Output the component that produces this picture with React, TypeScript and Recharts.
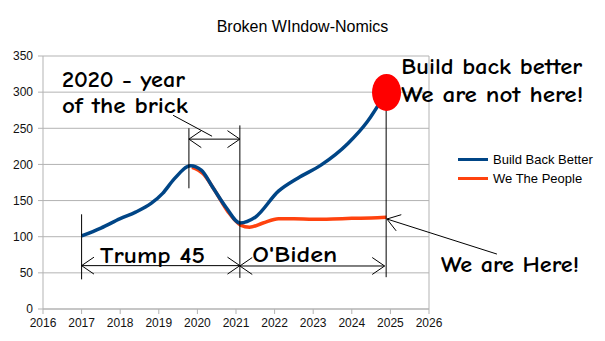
import { CartesianGrid, Line, LineChart, ReferenceDot, ReferenceLine, XAxis, YAxis } from 'recharts';

const yearTicks = [2016, 2017, 2018, 2019, 2020, 2021, 2022, 2023, 2024, 2025, 2026];
const valueTicks = [0, 50, 100, 150, 200, 250, 300, 350];

const bbbYears = [2017, 2017.5, 2018, 2018.4, 2018.8, 2019.1, 2019.4, 2019.82, 2020.1, 2020.4, 2020.75, 2021.1, 2021.5, 2022.1, 2022.6, 2023.2, 2023.9, 2024.4, 2024.88];
const bbbValues = [101, 112, 125, 134, 146, 160, 180, 198, 192, 168, 140, 119, 127, 163, 181, 199, 229, 259, 299];

const wtpYears = [2019.86, 2020.15, 2020.45, 2020.8, 2021.12, 2021.35, 2021.7, 2022.1, 2022.5, 2023, 2023.5, 2024, 2024.5, 2024.9];
const wtpValues = [196, 187, 164, 134, 116, 113, 119, 125, 125, 124, 124.5, 125.5, 126, 127];

const bbbData = bbbYears.map((year, i) => ({ year, value: bbbValues[i] }));
const wtpData = wtpYears.map((year, i) => ({ year, value: wtpValues[i] }));

// hand-drawn notes, placed in chart units
const notes = [
	{ year: 2016.49, value: 307, text: '2020 - year', width: 123 },
	{ year: 2016.49, value: 271, text: 'of the brick', width: 126 },
	{ year: 2025.28, value: 325, text: 'Build back better', width: 181 },
	{ year: 2025.28, value: 287, text: 'We are not here!', width: 182 },
	{ year: 2017.48, value: 63, text: 'Trump 45', width: 105 },
	{ year: 2021.42, value: 65, text: "O'Biden", width: 85 },
	{ year: 2026.31, value: 51, text: 'We are Here!', width: 138 },
];

type Pt = { x: number; y: number };
const strokes: { from: Pt; to: Pt; heads: 0 | 1 | 2 }[] = [
	{ from: { x: 2017, y: 131 }, to: { x: 2017, y: 41 }, heads: 0 },
	{ from: { x: 2019.78, y: 250 }, to: { x: 2019.78, y: 167 }, heads: 0 },
	{ from: { x: 2021.1, y: 254 }, to: { x: 2021.1, y: 43 }, heads: 0 },
	{ from: { x: 2024.89, y: 300 }, to: { x: 2024.89, y: 44 }, heads: 0 },
	{ from: { x: 2019.37, y: 268 }, to: { x: 2020.38, y: 239 }, heads: 0 },
	{ from: { x: 2019.78, y: 235 }, to: { x: 2021.1, y: 235 }, heads: 2 },
	{ from: { x: 2017, y: 60 }, to: { x: 2021.1, y: 60 }, heads: 2 },
	{ from: { x: 2021.1, y: 59.5 }, to: { x: 2024.85, y: 59.5 }, heads: 2 },
	{ from: { x: 2027.76, y: 76 }, to: { x: 2024.91, y: 124.5 }, heads: 1 },
];

const handFont = '"Comic Sans MS", "Comic Neue", Lato, sans-serif';
const axisFont = '"Liberation Sans", Arial, sans-serif';

const head = (tx: number, ty: number, fx: number, fy: number) => {
	const a = Math.atan2(fy - ty, fx - tx);
	const len = 15;
	const s = 0.6;
	return (
		<polyline
			points={`${tx + len * Math.cos(a + s)},${ty + len * Math.sin(a + s)} ${tx},${ty} ${tx + len * Math.cos(a - s)},${ty + len * Math.sin(a - s)}`}
			fill='none'
			stroke='#000'
			strokeWidth={1}
		/>
	);
};

const arrowShape = (heads: number) => (p: any) => (
	<g>
		<line x1={p.x1} y1={p.y1} x2={p.x2} y2={p.y2} stroke='#000' strokeWidth={1} />
		{heads >= 1 && head(p.x2, p.y2, p.x1, p.y1)}
		{heads === 2 && head(p.x1, p.y1, p.x2, p.y2)}
	</g>
);

const noteShape = (text: string, width: number) => (p: any) => (
	<text x={p.cx} y={p.cy} fontSize={22} fontWeight='bold' fontFamily={handFont} fill='#000' textLength={width} lengthAdjust='spacingAndGlyphs'>
		{text}
	</text>
);

export default function App() {
	return (
		<div style={{ position: 'absolute', left: 0, top: 0, width: 605, height: 341, background: '#fff' }}>
			<div style={{ position: 'absolute', left: 0, top: 19, width: 605, textAlign: 'center', fontFamily: axisFont, fontSize: 16, lineHeight: '16px', color: '#000' }}>
				Broken WIndow-Nomics
			</div>
			<LineChart width={605} height={341} margin={{ top: 56, right: 176, bottom: 0, left: 0 }} style={{ position: 'absolute', left: 0, top: 0 }}>
				<CartesianGrid vertical={false} stroke='#b3b3b3' />
				<XAxis
					dataKey='year'
					type='number'
					domain={[2016, 2026]}
					ticks={yearTicks}
					allowDuplicatedCategory={false}
					height={32}
					tickSize={5}
					tickMargin={4}
					stroke='#b3b3b3'
					tick={{ fill: '#111', fontSize: 12, fontFamily: axisFont }}
				/>
				<YAxis
					domain={[0, 350]}
					ticks={valueTicks}
					width={43}
					tickSize={5}
					tickMargin={5}
					stroke='#b3b3b3'
					tick={{ fill: '#111', fontSize: 12, fontFamily: axisFont }}
				/>
				<ReferenceLine x={2026} stroke='#b3b3b3' />
				<Line data={wtpData} dataKey='value' type='monotone' stroke='#ff420e' strokeWidth={3.5} dot={false} isAnimationActive={false} />
				<Line data={bbbData} dataKey='value' type='monotone' stroke='#004586' strokeWidth={3.5} dot={false} isAnimationActive={false} />
				{strokes.map((s, i) => (
					<ReferenceLine key={'s' + i} segment={[s.from, s.to]} ifOverflow='visible' shape={arrowShape(s.heads)} />
				))}
				<ReferenceDot
					x={2024.9}
					y={299.6}
					r={0}
					ifOverflow='visible'
					shape={(p: any) => <ellipse cx={p.cx} cy={p.cy} rx={14.5} ry={18.5} fill='#ff0000' />}
				/>
				{notes.map((n, i) => (
					<ReferenceDot key={'n' + i} x={n.year} y={n.value} r={0} ifOverflow='visible' shape={noteShape(n.text, n.width)} />
				))}
			</LineChart>
			<div style={{ position: 'absolute', left: 458, top: 150, fontFamily: axisFont, fontSize: 13, color: '#000' }}>
				{[
					{ name: 'Build Back Better', color: '#004586' },
					{ name: 'We The People', color: '#ff420e' },
				].map((item) => (
					<div key={item.name} style={{ display: 'flex', alignItems: 'center', height: 19 }}>
						<span style={{ width: 30, height: 3, background: item.color, marginRight: 5 }} />
						<span>{item.name}</span>
					</div>
				))}
			</div>
		</div>
	);
}
